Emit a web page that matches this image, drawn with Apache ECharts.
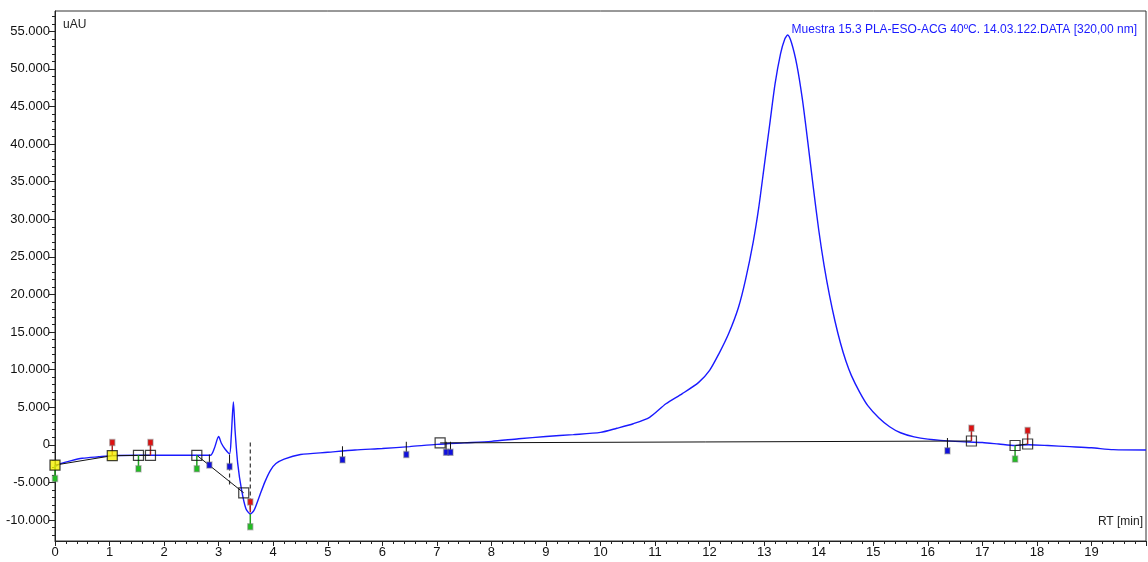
<!DOCTYPE html>
<html><head><meta charset="utf-8">
<script src="https://cdn.jsdelivr.net/npm/echarts@6/dist/echarts.min.js"></script>
<style>html,body{margin:0;padding:0;background:#fff}#c{width:1148px;height:562px}</style>
</head><body><div id="c"></div>
<script>
// ---- data ----
const times = [0,0.1,0.3,0.5,0.8,1.05,1.5,2.0,2.5,2.85,2.92,3.0,3.05,3.12,3.2,3.23,3.27,3.3,3.35,3.42,3.5,3.58,3.65,3.75,3.85,3.95,4.05,4.2,4.5,5.0,5.5,6.0,6.5,7.0,7.5,8.0,8.5,9.0,9.5,10.0,10.3,10.6,10.9,11.2,11.5,11.8,12.0,12.17,12.35,12.53,12.66,12.8,12.9,13.0,13.1,13.2,13.3,13.38,13.43,13.5,13.6,13.7,13.8,13.9,14.0,14.1,14.2,14.3,14.4,14.5,14.6,14.75,14.9,15.1,15.3,15.5,15.75,16.0,16.5,17.0,17.3,17.6,17.85,18.2,18.6,19.0,19.4,20.0];
const signal = [-2900,-2500,-2100,-1800,-1600,-1450,-1400,-1400,-1400,-1400,-500,1100,200,-600,-1200,1000,5700,2000,-2500,-6000,-8500,-9200,-8700,-6800,-4900,-3400,-2500,-1900,-1300,-1000,-700,-500,-250,50,250,450,800,1100,1350,1650,2200,2800,3650,5450,6800,8300,9900,12100,14800,18300,22000,27000,31500,37000,42500,48000,52000,54000,54500,53500,50500,46000,40300,34300,28600,23800,19800,16400,13500,11100,9200,7000,5200,3600,2400,1600,1050,750,450,300,100,-100,0,-100,-250,-400,-650,-700];
const xTickLabels = ['0','1','2','3','4','5','6','7','8','9','10','11','12','13','14','15','16','17','18','19'];
const yTickValues = [-10000,-5000,0,5000,10000,15000,20000,25000,30000,35000,40000,45000,50000,55000];
const yMinorValues = [-12000,-11000,-10000,-9000,-8000,-7000,-6000,-5000,-4000,-3000,-2000,-1000,0,1000,2000,3000,4000,5000,6000,7000,8000,9000,10000,11000,12000,13000,14000,15000,16000,17000,18000,19000,20000,21000,22000,23000,24000,25000,26000,27000,28000,29000,30000,31000,32000,33000,34000,35000,36000,37000,38000,39000,40000,41000,42000,43000,44000,45000,46000,47000,48000,49000,50000,51000,52000,53000,54000,55000,56000,57000];
// peak boundary squares [t, value, highlighted]
const squares = [[0,-2700,1],[1.05,-1450,1],[1.53,-1400,0],[1.75,-1400,0],[2.6,-1400,0],[3.46,-6400,0],[7.06,250,0],[16.8,500,0],[17.6,-100,0],[17.83,100,0]];
// baseline segments
const baselineSegments = [
  [[0,-2700],[1.05,-1450]],
  [[1.05,-1450],[1.75,-1400]],
  [[2.6,-1400],[3.46,-6400]],
  [[7.06,250],[16.8,500]],
  [[17.6,-100],[17.83,100]]
];
// event pins [t, from, to]
const redPins = [[1.05,-1450,300],[1.75,-1400,300],[3.58,-9000,-7600],[16.8,500,2200],[17.83,100,1900]];
const greenPins = [[0,-2700,-4500],[1.53,-1400,-3200],[2.6,-1400,-3200],[3.58,-9200,-10900],[17.6,-100,-1900]];
const bluePins = [[2.83,-1300,-2700],[3.2,-1300,-2900],[5.27,-200,-2000],[6.44,400,-1300],[7.17,400,-1000],[7.25,400,-1000],[16.36,900,-800]];
const dashedLines = [[3.58,300,-9000],[3.2,-2900,-5500]];
const titleText = 'Muestra 15.3 PLA-ESO-ACG 40ºC. 14.03.122.DATA [320,00 nm]';

// ---- chart ----
const FONT = "'Liberation Sans',Arial,sans-serif";
const chart = echarts.init(document.getElementById('c'), null, {renderer:'canvas'});
const YMIN = -12800, YMAX = 57700;

function pinSeries(data, head, stem, stemW) {
  return {
    type:'custom', data, z:5, silent:true,
    renderItem(params, api){
      const t = api.value(0), a = api.value(1), b = api.value(2);
      const p0 = api.coord([t,a]), p1 = api.coord([t,b]);
      return {type:'group', children:[
        {type:'line', shape:{x1:p0[0],y1:p0[1],x2:p1[0],y2:p1[1]}, style:{stroke:stem, lineWidth:stemW}},
        {type:'rect', shape:{x:p1[0]-2.5,y:p1[1]-3,width:5,height:6}, style:{fill:head, stroke:'rgba(120,120,120,0.45)', lineWidth:1.5}}
      ]};
    }
  };
}
const series = [];
series.push({
  type:'line', data: times.map((t,i)=>[t,signal[i]]), showSymbol:false, smooth:0.25,
  lineStyle:{color:'#1a1aff', width:1.4}, z:3, silent:true
});
baselineSegments.forEach(seg => series.push({
  type:'line', data:seg, showSymbol:false, lineStyle:{color:'#111', width:1}, z:4, silent:true
}));
series.push({
  type:'custom', data:dashedLines, z:4, silent:true,
  renderItem(params, api){
    const p0 = api.coord([api.value(0), api.value(1)]), p1 = api.coord([api.value(0), api.value(2)]);
    return {type:'line', shape:{x1:p0[0],y1:p0[1],x2:p1[0],y2:p1[1]}, style:{stroke:'#333', lineWidth:1.2, lineDash:[4,3]}};
  }
});
series.push(pinSeries(redPins, '#e01010', '#b02020', 1.5));
series.push(pinSeries(greenPins, '#20c020', '#20a020', 1.5));
series.push(pinSeries(bluePins, '#1010e0', '#111', 1));
series.push({
  type:'scatter', z:6, silent:true, symbol:'rect', symbolSize:10,
  data: squares.map(s => ({value:[s[0],s[1]], itemStyle:{color: s[2] ? '#f5f000' : 'rgba(255,255,255,0)', borderColor:'#111', borderWidth:1.2}}))
});

chart.setOption({
  animation:false,
  backgroundColor:'#fff',
  grid:{left:55, right:2, top:11, bottom:21, outerBoundsMode:'none', containLabel:false, show:true, borderColor:'#333', borderWidth:1, backgroundColor:'transparent'},
  title:{text:titleText, right:6, top:19, textStyle:{fontFamily:FONT, fontSize:12, fontWeight:'normal', color:'#1a1aff'}},
  graphic:[
    {type:'text', left:63, top:19, style:{text:'uAU', fontFamily:FONT, fontSize:12, fill:'#222'}},
    {type:'text', right:5, top:516, style:{text:'RT [min]', fontFamily:FONT, fontSize:12, fill:'#222'}}
  ],
  xAxis:{
    type:'value', min:0, max:20, interval:1,
    axisLine:{show:true, onZero:false, lineStyle:{color:'#222'}},
    axisTick:{show:true, length:5, lineStyle:{color:'#222'}},
    minorTick:{show:true, splitNumber:5, length:3, lineStyle:{color:'#222'}},
    splitLine:{show:false},
    axisLabel:{margin:5, fontFamily:FONT, fontSize:13, color:'#111',
      formatter:v => (Number.isInteger(v) && v < xTickLabels.length) ? xTickLabels[v] : ''}
  },
  yAxis:[{
    type:'value', min:YMIN, max:YMAX, position:'left',
    axisLine:{show:true, onZero:false, lineStyle:{color:'#222'}},
    axisTick:{show:true, length:3, customValues:yMinorValues, lineStyle:{color:'#222'}},
    splitLine:{show:false},
    axisLabel:{margin:5, fontFamily:FONT, fontSize:13, color:'#111', customValues:yTickValues,
      formatter:v => v === 0 ? '0' : (v < 0 ? '-' : '') + Math.abs(v/1000) + '.000'}
  },{
    type:'value', min:YMIN, max:YMAX, position:'left',
    axisLine:{show:false},
    axisTick:{show:true, length:6, customValues:yTickValues, lineStyle:{color:'#222'}},
    splitLine:{show:false},
    axisLabel:{show:false}
  }],
  series
});
</script>
</body></html>
